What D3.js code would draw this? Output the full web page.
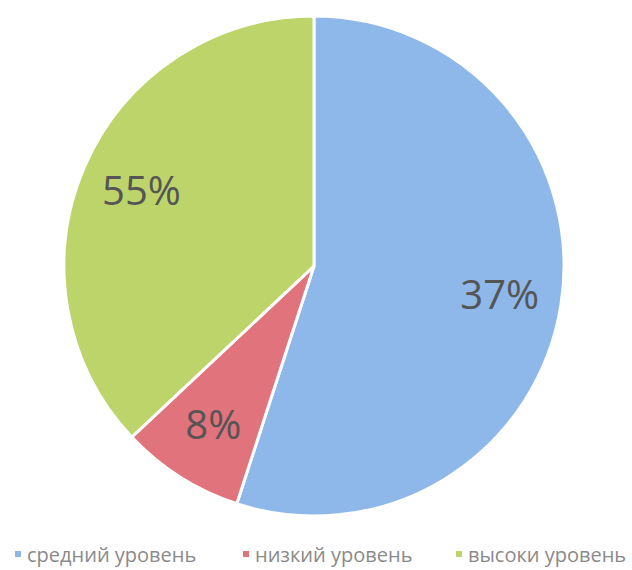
<!doctype html>
<html lang="ru">
<head>
<meta charset="utf-8">
<title>Pie</title>
<script src="https://d3js.org/d3.v7.min.js"></script>
<style>
  body { margin: 0; background: #fff; }
</style>
</head>
<body>
<script>
    // data
    const categories = ["средний уровень", "низкий уровень", "высоки уровень"]
    const values = [55, 8, 37]
    const labels = ["37%", "8%", "55%"]
    const colors = ["#8eb7ea", "#e0737b", "#bdd46b"]

    const width = 632
    const height = 570
    const cx = 314, cy = 266
    const radius = 250

    const svg = d3.select("body").append("svg")
        .attr("width", width)
        .attr("height", height)
        .attr("font-family", "'Open Sans', 'Noto Sans', sans-serif")

    const pie = d3.pie().sort(null).value(d => d)
    const arc = d3.arc().innerRadius(0).outerRadius(radius)
    const labelArc = d3.arc().innerRadius(188).outerRadius(188)

    const arcs = pie(values)

    const g = svg.append("g").attr("transform", `translate(${cx},${cy})`)

    g.selectAll("path")
        .data(arcs)
        .join("path")
        .attr("d", arc)
        .attr("fill", (d, i) => colors[i])
        .attr("stroke", "#fff")
        .attr("stroke-width", 3)

    g.selectAll("text")
        .data(arcs)
        .join("text")
        .attr("transform", d => `translate(${labelArc.centroid(d)})`)
        .attr("text-anchor", "middle")
        .attr("dy", "0.35em")
        .attr("font-size", 40)
        .attr("fill", "#555")
        .text((d, i) => labels[i])

    // legend
    const legendX = [15, 243, 456]
    const legend = svg.append("g").attr("transform", "translate(0,555)")
    const item = legend.selectAll("g")
        .data(categories)
        .join("g")
        .attr("transform", (d, i) => `translate(${legendX[i]},0)`)
    item.append("rect")
        .attr("x", 0).attr("y", -4)
        .attr("width", 6).attr("height", 6)
        .attr("fill", (d, i) => colors[i])
    item.append("text")
        .attr("x", 12)
        .attr("dy", "0.35em")
        .attr("font-size", 20)
        .attr("fill", "#8a8a8a")
        .text(d => d)
</script>
</body>
</html>
